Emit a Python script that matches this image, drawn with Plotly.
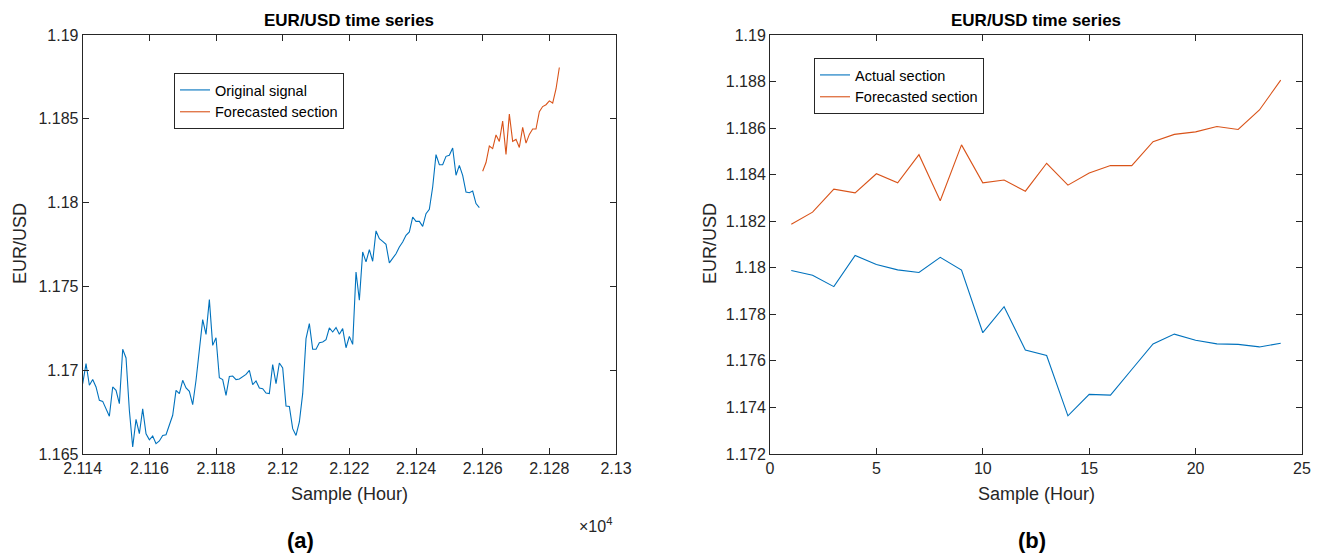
import plotly.graph_objects as go

# ---------------- data ----------------
orig_start_hour = 21140
original_signal = [
    1.16920, 1.17039, 1.16910, 1.16944, 1.16900, 1.16820, 1.16814, 1.16770, 1.16725, 1.16900,
    1.16880, 1.16800, 1.17125, 1.17073, 1.16761, 1.16542, 1.16707, 1.16621, 1.16769, 1.16621,
    1.16585, 1.16607, 1.16562, 1.16578, 1.16611, 1.16615, 1.16671, 1.16731, 1.16880, 1.16860,
    1.16940, 1.16894, 1.16874, 1.16794, 1.16940, 1.17138, 1.17302, 1.17214, 1.17421, 1.17148,
    1.17194, 1.16955, 1.16944, 1.16850, 1.16963, 1.16965, 1.16944, 1.16948, 1.16959, 1.16975,
    1.16999, 1.16914, 1.16936, 1.16894, 1.16890, 1.16864, 1.16860, 1.17033, 1.16920, 1.17043,
    1.17013, 1.16786, 1.16784, 1.16651, 1.16611, 1.16691, 1.16860, 1.17188, 1.17278, 1.17125,
    1.17125, 1.17164, 1.17168, 1.17182, 1.17252, 1.17228, 1.17254, 1.17214, 1.17248, 1.17134,
    1.17202, 1.17154, 1.17586, 1.17417, 1.17705, 1.17646, 1.17719, 1.17650, 1.17831, 1.17785,
    1.17769, 1.17751, 1.17640, 1.17669, 1.17695, 1.17735, 1.17765, 1.17805, 1.17825, 1.17914,
    1.17888, 1.17888, 1.17858, 1.17934, 1.17960, 1.18093, 1.18286, 1.18226, 1.18226, 1.18276,
    1.18282, 1.18326, 1.18163, 1.18222, 1.18163, 1.18063, 1.18059, 1.18069, 1.17994, 1.17970,
]
forecasted_section = [
    1.18187, 1.18239, 1.18338, 1.18322, 1.18404, 1.18365, 1.18486, 1.18288, 1.18528, 1.18365,
    1.18377, 1.18329, 1.18449, 1.18355, 1.18407, 1.18439, 1.18439, 1.18542, 1.18573, 1.18584,
    1.18607, 1.18594, 1.18678, 1.18806,
]
actual_section = [
    1.17988, 1.17968, 1.17919, 1.18053, 1.18014, 1.17991, 1.17980, 1.18045, 1.17990, 1.17721,
    1.17833, 1.17647, 1.17623, 1.17364, 1.17456, 1.17453, 1.17563, 1.17673, 1.17715, 1.17689,
    1.17673, 1.17671, 1.17660, 1.17676,
]

orig_hours = [orig_start_hour + i for i in range(len(original_signal))]
fc_hours = [orig_start_hour + len(original_signal) + i for i in range(len(forecasted_section))]
samples_b = list(range(1, len(actual_section) + 1))

left_xtick_vals = [21140, 21160, 21180, 21200, 21220, 21240, 21260, 21280, 21300]
left_xtick_text = ["2.114", "2.116", "2.118", "2.12", "2.122", "2.124", "2.126", "2.128", "2.13"]
left_ytick_vals = [1.165, 1.17, 1.175, 1.18, 1.185, 1.19]
left_ytick_text = ["1.165", "1.17", "1.175", "1.18", "1.185", "1.19"]
right_xtick_vals = [0, 5, 10, 15, 20, 25]
right_ytick_vals = [1.172, 1.174, 1.176, 1.178, 1.18, 1.182, 1.184, 1.186, 1.188, 1.19]
right_ytick_text = ["1.172", "1.174", "1.176", "1.178", "1.18", "1.182", "1.184", "1.186", "1.188", "1.19"]

BLUE = "#0072BD"
ORANGE = "#D95319"
FONT = "Liberation Sans, Arial, sans-serif"
AXC = "#262626"

W, H = 1320, 556

def px(x):
    return x / W

def py(y):
    return 1 - y / H

fig = go.Figure()
fig.add_trace(go.Scatter(x=orig_hours, y=original_signal, mode="lines", name="Original signal",
                         line=dict(color=BLUE, width=1.1), xaxis="x", yaxis="y", legend="legend"))
fig.add_trace(go.Scatter(x=fc_hours, y=forecasted_section, mode="lines", name="Forecasted section",
                         line=dict(color=ORANGE, width=1.1), xaxis="x", yaxis="y", legend="legend"))
fig.add_trace(go.Scatter(x=samples_b, y=actual_section, mode="lines", name="Actual section",
                         line=dict(color=BLUE, width=1.1), xaxis="x2", yaxis="y2", legend="legend2"))
fig.add_trace(go.Scatter(x=samples_b, y=forecasted_section, mode="lines", name="Forecasted section",
                         line=dict(color=ORANGE, width=1.1), xaxis="x2", yaxis="y2", legend="legend2"))

axis_common = dict(showgrid=False, zeroline=False, showline=True, linecolor=AXC, linewidth=1,
                   mirror="ticks", ticks="inside", ticklen=6, tickcolor=AXC, automargin=False,
                   tickfont=dict(family=FONT, size=16, color=AXC))

ydom = [py(454), py(35)]
fig.update_layout(
    width=W, height=H,
    margin=dict(l=0, r=0, t=0, b=0, pad=0, autoexpand=False),
    paper_bgcolor="white", plot_bgcolor="white",
    font=dict(family=FONT, color="black"),
    xaxis=dict(domain=[px(82.7), px(616)], range=[21140, 21300], anchor="y",
               tickmode="array", tickvals=left_xtick_vals, ticktext=left_xtick_text, **axis_common),
    yaxis=dict(domain=ydom, range=[1.165, 1.19], anchor="x",
               tickmode="array", tickvals=left_ytick_vals, ticktext=left_ytick_text, **axis_common),
    xaxis2=dict(domain=[px(770), px(1302)], range=[0, 25], anchor="y2",
                tickmode="array", tickvals=right_xtick_vals, **axis_common),
    yaxis2=dict(domain=ydom, range=[1.172, 1.19], anchor="x2",
                tickmode="array", tickvals=right_ytick_vals, ticktext=right_ytick_text, **axis_common),
    legend=dict(x=px(174), y=py(73), xanchor="left", yanchor="top",
                bordercolor=AXC, borderwidth=1, bgcolor="white",
                font=dict(family=FONT, size=14.5, color="black"), tracegroupgap=0),
    legend2=dict(x=px(814), y=py(58), xanchor="left", yanchor="top",
                 bordercolor=AXC, borderwidth=1, bgcolor="white",
                 font=dict(family=FONT, size=14.5, color="black"), tracegroupgap=0),
    showlegend=True,
)

ann = []
for cx in (px(349.3), px(1036)):
    ann.append(dict(text="<b>EUR/USD time series</b>", x=cx, y=py(21), xref="paper", yref="paper",
                    showarrow=False, xanchor="center", yanchor="middle",
                    font=dict(family=FONT, size=17, color="black")))
    ann.append(dict(text="Sample (Hour)", x=cx, y=py(494), xref="paper", yref="paper",
                    showarrow=False, xanchor="center", yanchor="middle",
                    font=dict(family=FONT, size=18, color=AXC)))
for lx in (px(20), px(710)):
    ann.append(dict(text="EUR/USD", x=lx, y=py(244), xref="paper", yref="paper", textangle=-90,
                    showarrow=False, xanchor="center", yanchor="middle",
                    font=dict(family=FONT, size=18, color=AXC)))
ann.append(dict(text="×10<sup>4</sup>", x=px(614), y=py(525), xref="paper", yref="paper",
                showarrow=False, xanchor="right", yanchor="middle",
                font=dict(family=FONT, size=16, color=AXC)))
ann.append(dict(text="<b>(a)</b>", x=px(300), y=py(540), xref="paper", yref="paper",
                showarrow=False, xanchor="center", yanchor="middle",
                font=dict(family=FONT, size=22, color="black")))
ann.append(dict(text="<b>(b)</b>", x=px(1032), y=py(540), xref="paper", yref="paper",
                showarrow=False, xanchor="center", yanchor="middle",
                font=dict(family=FONT, size=22, color="black")))
fig.update_layout(annotations=ann)

fig.write_html("out.html")
